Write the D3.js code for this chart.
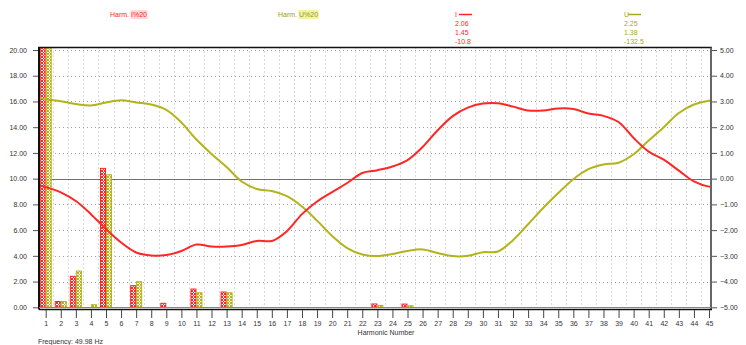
<!DOCTYPE html>
<html>
<head>
<meta charset="utf-8">
<script src="https://cdn.jsdelivr.net/npm/d3@7"></script>
<style>
  html, body { margin: 0; padding: 0; background: #fff; }
  svg { display: block; font-family: "Liberation Sans", Arial, sans-serif; }
</style>
</head>
<body>
<svg id="chart" width="746" height="345"></svg>
<script>
// Harmonic numbers along the x axis
const harmonics = [1,2,3,4,5,6,7,8,9,10,11,12,13,14,15,16,17,18,19,20,21,22,23,24,25,26,27,28,29,30,31,32,33,34,35,36,37,38,39,40,41,42,43,44,45];

// Harmonic amplitudes (left axis, %) for current and voltage
const currentHarm = [100,0.45,2.41,0,10.8,0,1.68,0,0.31,0,1.42,0,1.19,0,0,0,0,0,0,0,0,0,0.26,0,0.25,0,0,0,0,0,0,0,0,0,0,0,0,0,0,0,0,0,0,0,0];
const voltageHarm = [100,0.45,2.82,0.2,10.3,0,1.99,0,0,0,1.13,0,1.13,0,0,0,0,0,0,0,0,0,0.15,0,0.12,0,0,0,0,0,0,0,0,0,0,0,0,0,0,0,0,0,0,0,0];

// Waveform traces (right axis) sampled along the harmonic axis
const traceX = [0.56,1,2,3,4,5,6,7,8,9,10,11,12,13,14,15,16,17,18,19,20,21,22,23,24,25,26,27,28,29,30,31,32,33,34,35,36,37,38,39,40,41,42,43,44,45,45.07];
const currentTrace = [-0.27,-0.33,-0.53,-0.87,-1.38,-1.96,-2.48,-2.87,-2.99,-2.97,-2.81,-2.56,-2.64,-2.64,-2.58,-2.42,-2.42,-2.04,-1.38,-0.89,-0.52,-0.17,0.22,0.33,0.47,0.72,1.23,1.88,2.43,2.76,2.92,2.93,2.80,2.65,2.65,2.73,2.71,2.53,2.44,2.20,1.58,1.05,0.74,0.31,-0.11,-0.31,-0.31];
const voltageTrace = [3.15,3.09,3.01,2.90,2.84,2.96,3.05,2.96,2.88,2.67,2.18,1.52,0.96,0.45,-0.11,-0.40,-0.48,-0.68,-1.08,-1.63,-2.23,-2.70,-2.95,-3.01,-2.93,-2.81,-2.75,-2.89,-3.01,-3.00,-2.86,-2.83,-2.39,-1.77,-1.14,-0.56,-0.02,0.37,0.55,0.62,0.95,1.48,2.00,2.55,2.88,3.03,3.03];

// Axis ticks
const leftTicks = [0,2,4,6,8,10,12,14,16,18,20];
const rightTicks = [-5,-4,-3,-2,-1,0,1,2,3,4,5];

// Legend readouts
const currentReadout = ["2.06", "1.45", "-10.8"];
const voltageReadout = ["2.25", "1.38", "-132.5"];

const RED = "#ff2626";
const OLIVE = "#b3b31a";

const svg = d3.select("#chart");
const plot = { left: 39, right: 711, top: 47.5, bottom: 307.5 };

const x = d3.scaleLinear().domain([1, 45]).range([45.7, 709]);
const yL = d3.scaleLinear().domain([0, 20]).range([307.3, 50]);
const yR = d3.scaleLinear().domain([-5, 5]).range([307.3, 50]);

// Fill patterns for the bars
const defs = svg.append("defs");
function hatch(id, color) {
  const p = defs.append("pattern").attr("id", id).attr("patternUnits", "userSpaceOnUse")
    .attr("width", 3).attr("height", 3);
  p.append("rect").attr("width", 3).attr("height", 3).attr("fill", "#fff");
  [[0,0],[2,0],[1,1],[0,2],[2,2]].forEach(([px, py]) =>
    p.append("rect").attr("x", px).attr("y", py).attr("width", 1).attr("height", 1).attr("fill", color));
}
hatch("hatchRed", RED);
hatch("hatchOlive", OLIVE);
defs.append("clipPath").attr("id", "plotClip").append("rect")
  .attr("x", plot.left).attr("y", plot.top)
  .attr("width", plot.right - plot.left).attr("height", plot.bottom - plot.top);

// Grid: dotted verticals between harmonics, dotted horizontals every 2 %
const grid = svg.append("g");
const halfSteps = harmonics.slice(0, 44).map(h => h + 0.5);
grid.selectAll("line.v").data(halfSteps).join("line")
  .attr("x1", d => Math.round(x(d)) + 0.5).attr("x2", d => Math.round(x(d)) + 0.5)
  .attr("y1", plot.top).attr("y2", plot.bottom)
  .attr("stroke", "#b4b4b4").attr("stroke-width", 1)
  .attr("stroke-dasharray", "1,3");
grid.selectAll("line.h").data(leftTicks.filter(t => t !== 0 && t !== 10)).join("line")
  .attr("x1", plot.left).attr("x2", plot.right)
  .attr("y1", d => Math.round(yL(d)) + 0.5).attr("y2", d => Math.round(yL(d)) + 0.5)
  .attr("stroke", "#a0a0a0").attr("stroke-width", 1)
  .attr("stroke-dasharray", "1,3");
// zero line of the right axis
grid.append("line")
  .attr("x1", plot.left).attr("x2", plot.right)
  .attr("y1", Math.round(yL(10)) + 0.5).attr("y2", Math.round(yL(10)) + 0.5)
  .attr("stroke", "#707070").attr("stroke-width", 1);

// Bars
const bars = svg.append("g").attr("clip-path", "url(#plotClip)");
const barW = 5;
bars.selectAll("rect.i").data(harmonics.filter((h, i) => currentHarm[i] > 0)).join("rect")
  .attr("x", h => x(h) - barW - 0.5)
  .attr("y", h => yL(currentHarm[h - 1]))
  .attr("width", barW)
  .attr("height", h => yL(0) - yL(currentHarm[h - 1]))
  .attr("fill", "url(#hatchRed)").attr("stroke", RED).attr("stroke-width", 1);
bars.selectAll("rect.u").data(harmonics.filter((h, i) => voltageHarm[i] > 0)).join("rect")
  .attr("x", h => x(h) + 0.5)
  .attr("y", h => yL(voltageHarm[h - 1]))
  .attr("width", barW)
  .attr("height", h => yL(0) - yL(voltageHarm[h - 1]))
  .attr("fill", "url(#hatchOlive)").attr("stroke", OLIVE).attr("stroke-width", 1);

// Traces
const lineGen = d3.line().curve(d3.curveCatmullRom.alpha(0.5));
const traces = svg.append("g").attr("clip-path", "url(#plotClip)");
traces.append("path")
  .attr("d", lineGen(traceX.map((h, i) => [x(h), yR(voltageTrace[i])])))
  .attr("fill", "none").attr("stroke", OLIVE).attr("stroke-width", 2);
traces.append("path")
  .attr("d", lineGen(traceX.map((h, i) => [x(h), yR(currentTrace[i])])))
  .attr("fill", "none").attr("stroke", RED).attr("stroke-width", 2);

// Frame
svg.append("line").attr("x1", plot.left - 1).attr("x2", plot.right + 1)
  .attr("y1", plot.top).attr("y2", plot.top).attr("stroke", "#111").attr("stroke-width", 1.5);
svg.append("line").attr("x1", plot.left).attr("x2", plot.left)
  .attr("y1", plot.top).attr("y2", plot.bottom + 2).attr("stroke", "#111").attr("stroke-width", 2);
svg.append("line").attr("x1", plot.right).attr("x2", plot.right)
  .attr("y1", plot.top).attr("y2", plot.bottom + 2).attr("stroke", "#666").attr("stroke-width", 2);
svg.append("line").attr("x1", plot.left).attr("x2", plot.right)
  .attr("y1", 307.5).attr("y2", 307.5).attr("stroke", "#888").attr("stroke-width", 1);
svg.append("line").attr("x1", plot.left).attr("x2", plot.right + 1)
  .attr("y1", 309.5).attr("y2", 309.5).attr("stroke", "#111").attr("stroke-width", 1.5);

// Left axis
const fmt = d3.format(".2f");
const leftAxis = d3.axisLeft(yL).tickValues(leftTicks).tickFormat(fmt).tickSize(5).tickPadding(6);
const gL = svg.append("g").attr("transform", `translate(${plot.left - 1},0)`).call(leftAxis);
gL.select(".domain").remove();
gL.selectAll(".tick line").attr("stroke", "#555");
gL.selectAll("text").attr("font-size", 7).attr("fill", "#333");

// Right axis
const rightAxis = d3.axisRight(yR).tickValues(rightTicks).tickFormat(fmt).tickSize(5).tickPadding(3);
const gR = svg.append("g").attr("transform", `translate(${plot.right + 1},0)`).call(rightAxis);
gR.select(".domain").remove();
gR.selectAll(".tick line").attr("stroke", "#555");
gR.selectAll("text").attr("font-size", 7).attr("fill", "#333");

// Bottom axis
const bottomAxis = d3.axisBottom(x).tickValues(harmonics).tickFormat(d3.format("d")).tickSize(8).tickPadding(3);
const gB = svg.append("g").attr("transform", "translate(0,310)").call(bottomAxis);
gB.select(".domain").remove();
gB.selectAll(".tick line").attr("stroke", "#444");
gB.selectAll("text").attr("font-size", 7).attr("fill", "#334");

svg.append("text").attr("x", 386).attr("y", 335).attr("text-anchor", "middle")
  .attr("font-size", 7).attr("fill", "#333").text("Harmonic Number");
svg.append("text").attr("x", 38).attr("y", 344).attr("font-size", 7).attr("fill", "#333")
  .text("Frequency: 49.98 Hz");

// Legend titles with highlighted tag
function legendTitle(xPos, label, tag, color, bg) {
  const bgRect = svg.append("rect");
  const txt = svg.append("text").attr("x", xPos).attr("y", 17).attr("font-size", 7).attr("fill", color);
  txt.append("tspan").text(label + " ");
  const span = txt.append("tspan").text(tag).node();
  const n = span.getNumberOfChars();
  const s = span.getStartPositionOfChar(0);
  const e = span.getEndPositionOfChar(n - 1);
  bgRect.attr("x", s.x - 0.5).attr("y", 10).attr("width", e.x - s.x + 1).attr("height", 9).attr("fill", bg);
}
legendTitle(110, "Harm.", "I%20", RED, "#ffd8d8");
legendTitle(278, "Harm.", "U%20", "#9c9c1c", "#f2f2a8");

// Readout columns
function readout(xPos, name, values, color) {
  const g = svg.append("g").attr("fill", color).attr("font-size", 7);
  g.append("text").attr("x", xPos).attr("y", 17).text(name);
  g.append("line").attr("x1", xPos + 4).attr("x2", xPos + 17).attr("y1", 14.5).attr("y2", 14.5)
    .attr("stroke", color).attr("stroke-width", 1.5);
  g.selectAll("text.v").data(values).join("text")
    .attr("x", xPos).attr("y", (d, i) => 26 + i * 9).text(d => d);
}
readout(455, "I", currentReadout, RED);
readout(624, "U", voltageReadout, "#a8a81c");
</script>
</body>
</html>
